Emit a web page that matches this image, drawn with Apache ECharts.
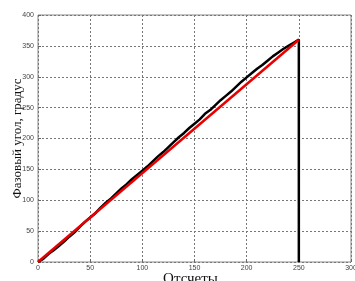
<!DOCTYPE html>
<html>
<head>
<meta charset="utf-8">
<script src="https://cdn.jsdelivr.net/npm/echarts@6/dist/echarts.min.js"></script>
<style>
  html, body { margin: 0; padding: 0; background: #fff; }
  #chart { width: 355px; height: 281px; }
</style>
</head>
<body>
<div id="chart"></div>
<script>
  // отсчеты и измеренная фаза (черная линия)
  var samples = [0, 5, 10, 15, 20, 25, 30, 35, 40, 45, 50, 55, 60, 65, 70, 75, 80, 85, 90, 95,
    100, 105, 110, 115, 120, 125, 130, 135, 140, 145, 150, 155, 160, 165, 170, 175, 180, 185, 190, 195,
    200, 205, 210, 215, 220, 225, 230, 235, 240, 245, 250, 250];
  var phase = [0, 5, 13, 19, 26, 33, 41, 48, 57, 65, 72, 79, 88, 96, 103, 111, 119, 126, 134, 141,
    148, 155, 163, 171, 178, 186, 194, 202, 209, 217, 224, 231, 240, 246, 254, 262, 269, 276, 284, 292,
    299, 306, 313, 319, 326, 333, 339, 345, 350, 355, 360, 0];
  // идеальная линия (красная)
  var idealX = [0, 250];
  var idealY = [0, 360];

  var myChart = echarts.init(document.getElementById('chart'));

  var pairs = function (xs, ys) {
    return xs.map(function (x, i) { return [x, ys[i]]; });
  };

  var tickLabel = { fontSize: 7, color: '#444', fontFamily: 'Liberation Sans' };
  var gridLine = { show: true, lineStyle: { color: '#777', width: 1, type: [2, 2] } };

  myChart.setOption({
    animation: false,
    grid: {
      left: 38, right: 4, top: 15, bottom: 19,
      outerBoundsMode: 'none', containLabel: false,
      show: true, borderColor: '#888', borderWidth: 1, backgroundColor: '#fff'
    },
    xAxis: {
      type: 'value', min: 0, max: 300, interval: 50,
      name: 'Отсчеты', nameLocation: 'middle', nameGap: 10, nameMoveOverlap: false,
      nameTextStyle: { fontSize: 15, color: '#111', fontFamily: 'Liberation Serif', padding: [0, 8, 0, 0] },
      axisLine: { show: false },
      axisTick: { inside: true, length: 3, lineStyle: { color: '#666' } },
      axisLabel: Object.assign({ margin: 3 }, tickLabel),
      splitLine: gridLine
    },
    yAxis: {
      type: 'value', min: 0, max: 400, interval: 50,
      name: 'Фазовый угол, градус', nameLocation: 'middle', nameGap: 14, nameMoveOverlap: false,
      nameTextStyle: { fontSize: 13, color: '#111', fontFamily: 'Liberation Serif' },
      axisLine: { show: false },
      axisTick: { inside: true, length: 3, lineStyle: { color: '#666' } },
      axisLabel: Object.assign({ margin: 4 }, tickLabel),
      splitLine: gridLine
    },
    series: [
      {
        type: 'line', data: pairs(samples, phase), showSymbol: false,
        lineStyle: { color: '#000', width: 2.5 }
      },
      {
        type: 'line', data: pairs(idealX, idealY), showSymbol: false,
        lineStyle: { color: '#e80000', width: 2.5 }
      }
    ]
  });
</script>
</body>
</html>
